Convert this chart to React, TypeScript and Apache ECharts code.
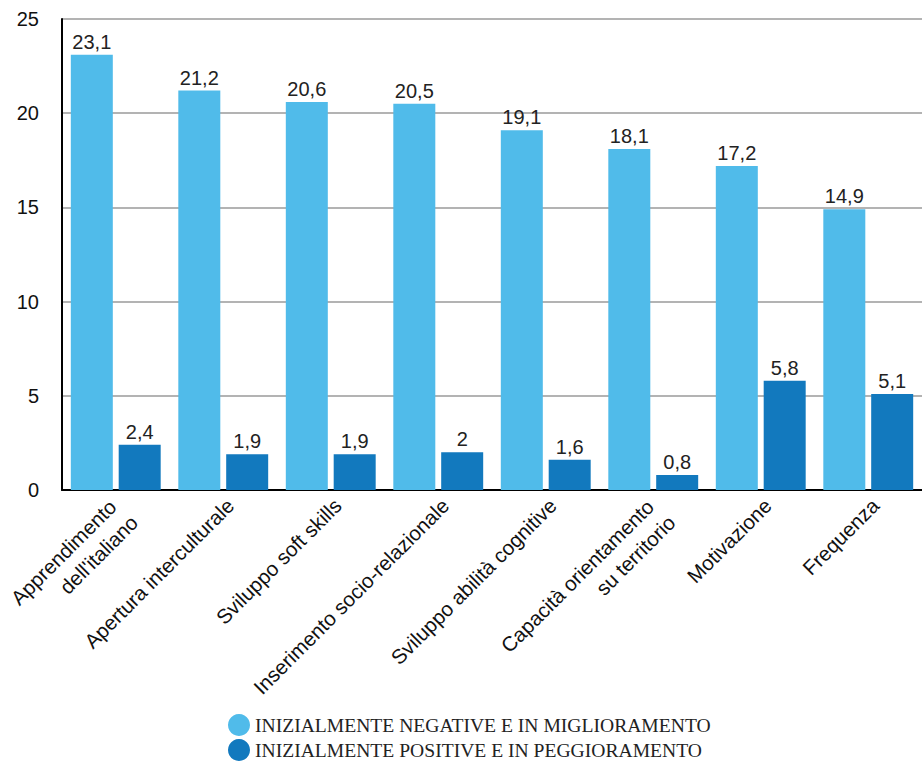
import React, { useEffect, useRef } from "react";
import * as echarts from "echarts";

const categories = [
  "Apprendimento\ndell'italiano",
  "Apertura interculturale",
  "Sviluppo soft skills",
  "Inserimento socio-relazionale",
  "Sviluppo abilità cognitive",
  "Capacità orientamento\nsu territorio",
  "Motivazione",
  "Frequenza",
];
const seriesNames = [
  "INIZIALMENTE NEGATIVE E IN MIGLIORAMENTO",
  "INIZIALMENTE POSITIVE E IN PEGGIORAMENTO",
];
const negativeImproving = [23.1, 21.2, 20.6, 20.5, 19.1, 18.1, 17.2, 14.9];
const positiveWorsening = [2.4, 1.9, 1.9, 2, 1.6, 0.8, 5.8, 5.1];
const colors = ["#50BBEA", "#1279BE"];

const fmt = (v: number) => String(v).replace(".", ",");

const FONT = "Liberation Sans, Arial, sans-serif";

export default function App() {
  const ref = useRef<HTMLDivElement>(null);
  useEffect(() => {
    if (!ref.current) return;
    const chart = echarts.init(ref.current, null, { renderer: "svg" });
    const labelStyle = {
      show: true,
      position: "top" as const,
      distance: 3,
      fontFamily: FONT,
      fontSize: 20,
      color: "#222",
      formatter: (p: any) => fmt(p.value),
    };
    chart.setOption({
      animation: false,
      backgroundColor: "#fff",
      grid: [
        {
          left: 62,
          right: 0,
          top: 19,
          bottom: 273,
          containLabel: false,
          outerBoundsMode: "none",
        },
        {
          left: 69,
          right: -7,
          top: 19,
          bottom: 273,
          containLabel: false,
          outerBoundsMode: "none",
        },
      ],
      legend: {
        orient: "vertical",
        left: 228,
        top: 714,
        padding: 0,
        icon: "circle",
        itemWidth: 22,
        itemHeight: 22,
        itemGap: 3,
        textStyle: {
          fontFamily: "Liberation Serif, Times New Roman, serif",
          fontSize: 19.6,
          color: "#222",
        },
        data: seriesNames,
      },
      xAxis: [
        {
          type: "category",
          gridIndex: 0,
          data: categories,
          axisLine: { show: true, lineStyle: { color: "#000", width: 2 } },
          axisTick: { show: false },
          axisLabel: { show: false },
        },
        {
          type: "category",
          gridIndex: 1,
          data: categories,
          axisLine: { show: false },
          axisTick: { show: false },
          splitLine: { show: false },
          axisLabel: {
            interval: 0,
            rotate: 45,
            margin: 12,
            fontFamily: FONT,
            fontSize: 20.5,
            color: "#111",
            formatter: (v: string) => {
              const parts = v.split("\n");
              if (parts.length < 2) return v;
              return `{a|${parts[0]}}\n{b|${parts[1]}}`;
            },
            rich: {
              a: {
                fontFamily: FONT,
                fontSize: 20.5,
                color: "#111",
                lineHeight: 40,
                padding: [0, 8, 0, 0],
              },
              b: {
                fontFamily: FONT,
                fontSize: 20.5,
                color: "#111",
                lineHeight: 13,
                padding: [0, 4, 0, 0],
              },
            },
          },
        },
      ],
      yAxis: [
        {
          type: "value",
          gridIndex: 0,
          min: 0,
          max: 25,
          interval: 5,
          axisLine: { show: true, lineStyle: { color: "#000", width: 2 } },
          axisTick: { show: false },
          splitLine: { lineStyle: { color: "#b3b3b3", width: 2 } },
          axisLabel: {
            margin: 23,
            fontFamily: FONT,
            fontSize: 20,
            color: "#111",
          },
        },
        {
          type: "value",
          gridIndex: 1,
          min: 0,
          max: 25,
          show: false,
          splitLine: { show: false },
        },
      ],
      series: [
        {
          name: seriesNames[0],
          type: "bar",
          xAxisIndex: 0,
          yAxisIndex: 0,
          data: negativeImproving,
          barWidth: 42,
          barGap: "14%",
          itemStyle: { color: colors[0] },
          label: labelStyle,
        },
        {
          name: seriesNames[1],
          type: "bar",
          xAxisIndex: 0,
          yAxisIndex: 0,
          data: positiveWorsening,
          barWidth: 42,
          barGap: "14%",
          itemStyle: { color: colors[1] },
          label: labelStyle,
        },
      ],
    });
    return () => chart.dispose();
  }, []);
  return (
    <div
      ref={ref}
      style={{ position: "absolute", left: 0, top: 0, width: 922, height: 763 }}
    />
  );
}
